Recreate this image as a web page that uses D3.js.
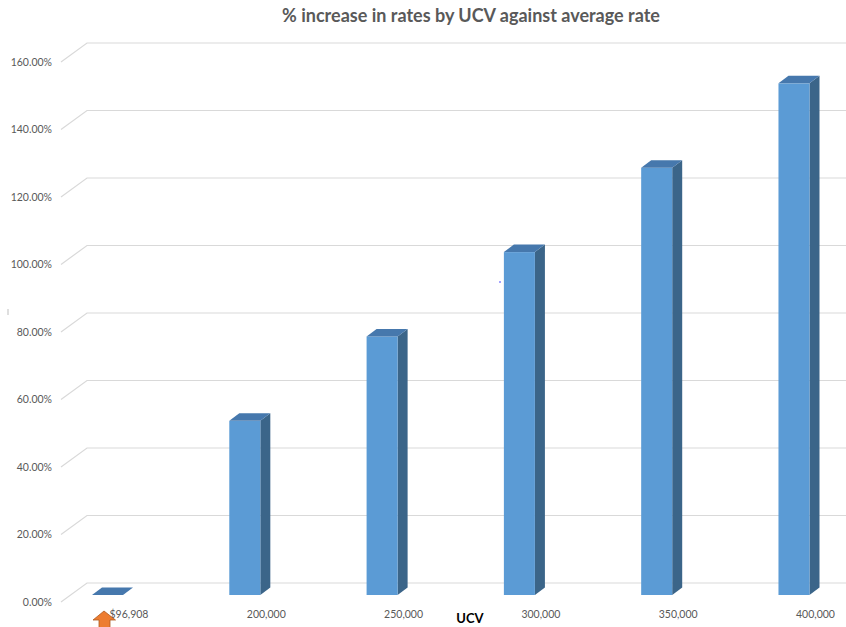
<!DOCTYPE html>
<html>
<head>
<meta charset="utf-8">
<script src="https://cdn.jsdelivr.net/npm/d3@7"></script>
<style>
  html, body { margin: 0; padding: 0; background: #ffffff; }
  svg { display: block; font-family: Lato, "Open Sans", sans-serif; }
</style>
</head>
<body>
<svg id="chart" width="846" height="627"></svg>
<script>
// Rate increase relative to the average rate, by unimproved capital value (UCV)
const categories = ["$96,908", "200,000", "250,000", "300,000", "350,000", "400,000"];
const increase   = [0, 0.516, 0.766, 1.016, 1.266, 1.516];
const yTicks     = [0, 0.2, 0.4, 0.6, 0.8, 1.0, 1.2, 1.4, 1.6];

const title = "% increase in rates by UCV against average rate";
const xTitle = "UCV";

const svg = d3.select("#chart");

// Value scale on the back wall of the 3D plot
const y = d3.scaleLinear().domain([0, 1.6]).range([583, 43]);
// Front face of each column
const x = d3.scaleBand().domain(categories)
  .range([92, 809.5]).paddingInner(0.774).paddingOuter(0);

const wallDepth = { dx: 27, dy: 19 };   // front edge -> back wall
const barFront = 12;                     // vertical offset of column front face from back wall
const barDepth = { dx: 10, dy: 7.5 };    // column depth

// Gridlines: short receding segment on the left, then across the back wall
const grid = svg.append("g");
yTicks.forEach(t => {
  const yb = y(t);
  grid.append("polyline")
    .attr("points", [[87 - wallDepth.dx + 1, yb + wallDepth.dy], [87, yb], [846, yb]].map(p => p.join(",")).join(" "))
    .attr("fill", "none")
    .attr("stroke", "#d9d9d9")
    .attr("stroke-width", 1.2);
});

// Y tick labels
svg.append("g").selectAll("text").data(yTicks).join("text")
  .attr("x", 52)
  .attr("y", d => y(d) + wallDepth.dy)
  .attr("dy", "0.35em")
  .attr("text-anchor", "end")
  .attr("font-size", 10.5)
  .attr("fill", "#595959")
  .text(d => d3.format(".2%")(d));

// Columns
const bars = svg.append("g").selectAll("g").data(categories).join("g");
bars.each(function(c, i) {
  const g = d3.select(this);
  const x0 = x(c), x1 = x(c) + x.bandwidth();
  const yTop = y(increase[i]) + barFront;
  const yBot = y(0) + barFront;
  const dx = barDepth.dx, dy = barDepth.dy;
  // side face
  if (yBot > yTop) {
    g.append("polygon")
      .attr("points", [[x1, yTop], [x1 + dx, yTop - dy], [x1 + dx, yBot - dy], [x1, yBot]].map(p => p.join(",")).join(" "))
      .attr("fill", "#3b6589");
    g.append("rect")
      .attr("x", x0).attr("y", yTop)
      .attr("width", x1 - x0).attr("height", yBot - yTop)
      .attr("fill", "#5b9bd5");
  }
  // top face
  g.append("polygon")
    .attr("points", [[x0, yTop], [x0 + dx, yTop - dy], [x1 + dx, yTop - dy], [x1, yTop]].map(p => p.join(",")).join(" "))
    .attr("fill", "#4678ad");
});

// Category labels
svg.append("g").selectAll("text").data(categories).join("text")
  .attr("x", d => x(d) + 37)
  .attr("y", 614)
  .attr("dy", "0.35em")
  .attr("text-anchor", "middle")
  .attr("font-size", 10.5)
  .attr("fill", "#595959")
  .text(d => d);

// Axis title
svg.append("text")
  .attr("x", 470).attr("y", 618).attr("dy", "0.35em")
  .attr("text-anchor", "middle")
  .attr("font-size", 13).attr("font-weight", "bold")
  .attr("fill", "#000000")
  .text(xTitle);

// Chart title
svg.append("text")
  .attr("x", 471).attr("y", 16).attr("dy", "0.35em")
  .attr("text-anchor", "middle")
  .attr("font-size", 18).attr("font-weight", "bold")
  .attr("fill", "#595959")
  .text(title);

// Marker pointing at the average-rate column
const ax = x(categories[0]) + 12;
svg.append("path")
  .attr("d", `M${ax},611 L${ax + 11.5},620 L${ax + 6},620 L${ax + 6},628 L${ax - 5},628 L${ax - 5},620 L${ax - 11},620 Z`)
  .attr("fill", "#ed7d31")
  .attr("stroke", "#ae5a21")
  .attr("stroke-width", 0.8);

// Small stray marks
svg.append("line").attr("x1", 8).attr("x2", 8).attr("y1", 309).attr("y2", 315)
  .attr("stroke", "#bfbfbf").attr("stroke-width", 1);
svg.append("circle").attr("cx", 500).attr("cy", 282).attr("r", 0.8).attr("fill", "#3030ff");
</script>
</body>
</html>
